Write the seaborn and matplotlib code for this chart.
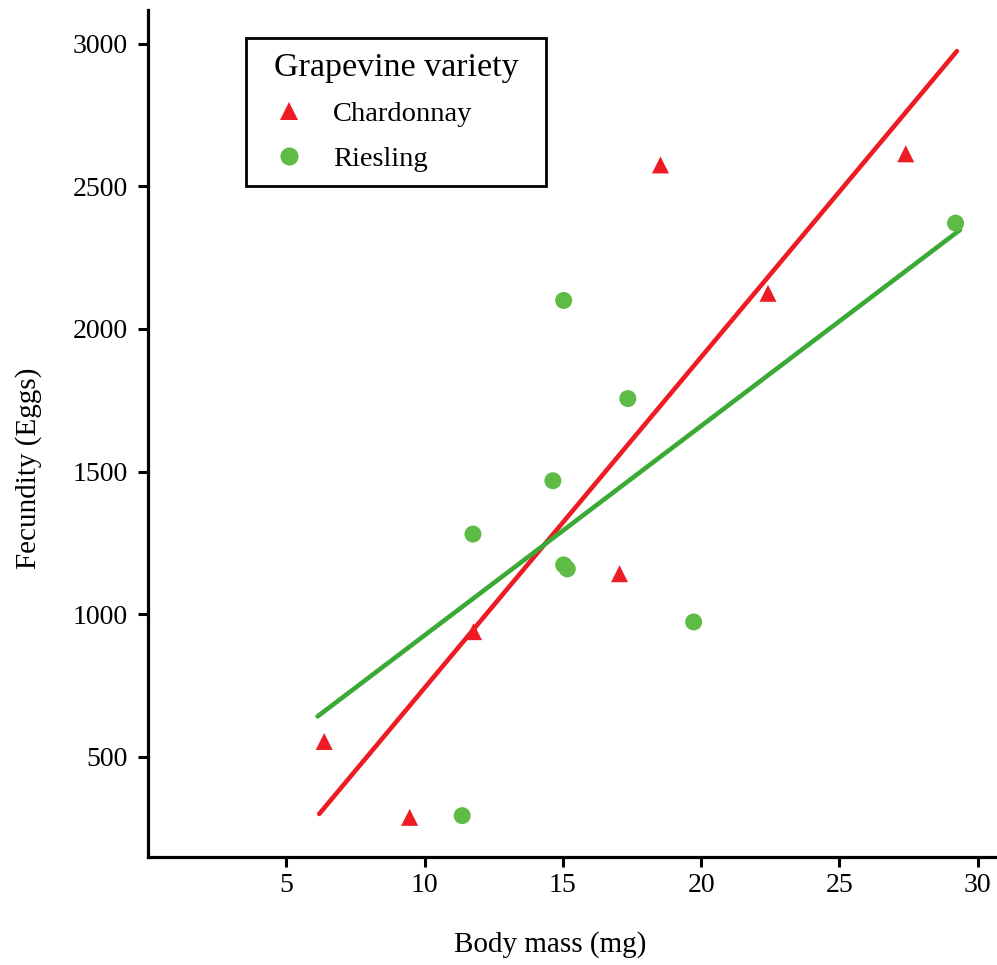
import matplotlib
matplotlib.use("Agg")
import matplotlib.pyplot as plt
import seaborn as sns
import pandas as pd

# ---- data ----
chardonnay_mass = [6.37, 9.46, 11.77, 17.05, 18.53, 22.42, 27.40]
chardonnay_eggs = [554, 288, 939, 1142, 2575, 2125, 2614]

riesling_mass = [11.36, 11.75, 14.64, 15.03, 15.03, 15.16, 17.35, 19.73, 29.20]
riesling_eggs = [294, 1281, 1468, 2100, 1173, 1159, 1756, 973, 2371]

# fitted regression lines (end points)
chardonnay_fit_mass = [6.19, 29.25]
chardonnay_fit_eggs = [300, 2974]
riesling_fit_mass = [6.13, 29.36]
riesling_fit_eggs = [642, 2347]

varieties = ["Chardonnay", "Riesling"]
x_ticks = [5, 10, 15, 20, 25, 30]
y_ticks = [500, 1000, 1500, 2000, 2500, 3000]

# ---- build tables ----
points = pd.DataFrame({
    "mass": chardonnay_mass + riesling_mass,
    "eggs": chardonnay_eggs + riesling_eggs,
    "variety": ["Chardonnay"] * len(chardonnay_mass) + ["Riesling"] * len(riesling_mass),
})
fits = pd.DataFrame({
    "mass": chardonnay_fit_mass + riesling_fit_mass,
    "eggs": chardonnay_fit_eggs + riesling_fit_eggs,
    "variety": ["Chardonnay"] * 2 + ["Riesling"] * 2,
})

sns.set_style("ticks")
plt.rcParams["font.family"] = ["Liberation Serif", "DejaVu Serif"]
plt.rcParams["text.color"] = "black"
plt.rcParams["axes.labelcolor"] = "black"
plt.rcParams["xtick.color"] = "black"
plt.rcParams["ytick.color"] = "black"
plt.rcParams["axes.edgecolor"] = "black"

marker_colors = {"Chardonnay": "#ED1C24", "Riesling": "#5DBB46"}
line_colors = {"Chardonnay": "#ED1C24", "Riesling": "#3AAA35"}

fig = plt.figure(figsize=(9.97, 9.65), dpi=100)
ax = fig.add_axes([0.1485, 0.1122, 0.8515, 0.8774])

sns.lineplot(data=fits, x="mass", y="eggs", hue="variety", palette=line_colors,
             hue_order=varieties, linewidth=3.3, legend=False, ax=ax, zorder=2)

sns.scatterplot(data=points, x="mass", y="eggs", hue="variety", style="variety",
                hue_order=varieties, style_order=varieties,
                palette=marker_colors, markers={"Chardonnay": "^", "Riesling": "o"},
                s=150, linewidth=0, ax=ax, zorder=3)

ax.set_xlim(0, 30.7)
ax.set_ylim(150, 3118)
ax.set_xticks(x_ticks)
ax.set_yticks(y_ticks)
ax.set_xticklabels([str(t) for t in x_ticks])
ax.set_yticklabels([str(t) for t in y_ticks])

for side in ["top", "right"]:
    ax.spines[side].set_visible(False)
for side in ["left", "bottom"]:
    ax.spines[side].set_linewidth(2.3)
    ax.spines[side].set_color("black")

ax.tick_params(axis="both", direction="out", length=7.5, width=2.2, colors="black",
               labelsize=20, labelcolor="black")
ax.tick_params(axis="y", pad=7)
ax.tick_params(axis="x", pad=4)

ax.set_xlabel("Body mass (mg)", fontsize=21, color="black")
ax.set_ylabel("Fecundity (Eggs)", fontsize=21, color="black")
ax.xaxis.set_label_coords(0.4735, -0.088)
ax.yaxis.set_label_coords(-0.125, 0.459)

sns.move_legend(ax, "upper left",
                bbox_to_anchor=(0.1154, 0.967 - 0.176, 0.3534, 0.176),
                mode="expand", borderaxespad=0,
                title="Grapevine variety", title_fontsize=24.5, fontsize=20.5,
                frameon=True, fancybox=False, edgecolor="black", framealpha=1,
                handlelength=2.0, handletextpad=0.56, labelspacing=0.66,
                borderpad=0.5, labelcolor="black")
leg = ax.get_legend()
leg.get_frame().set_linewidth(2.0)
leg.get_title().set_color("black")
for h in leg.legend_handles:
    try:
        h.set_markersize(13)
    except Exception:
        pass

fig.savefig("out.png", dpi=100)
